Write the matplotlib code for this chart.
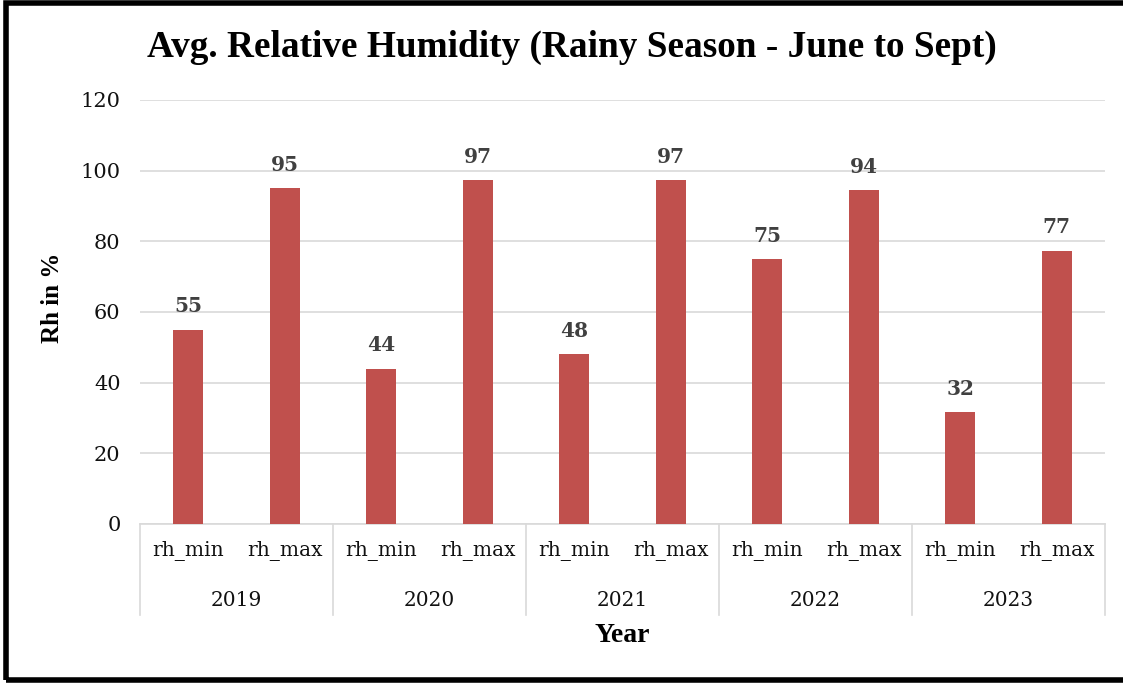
import matplotlib
matplotlib.use("Agg")
from matplotlib import pyplot as plt
from matplotlib.patches import Rectangle
import numpy as np

years = ["2019", "2020", "2021", "2022", "2023"]
sub_labels = ["rh_min", "rh_max"]
rh_min = [55.0, 44.0, 48.0, 75.0, 31.7]
rh_max = [95.0, 97.3, 97.3, 94.4, 77.4]

# interleave min/max per year
values = []
for a, b in zip(rh_min, rh_max):
    values += [a, b]
x = np.arange(len(values))

fig = plt.figure(figsize=(11.23, 6.83), dpi=100)
ax = fig.add_axes([0.1247, 0.2328, 0.984 - 0.1247, 0.8536 - 0.2328])

bar_color = "#c0504d"
ax.bar(x, values, width=0.31, color=bar_color, zorder=3)

for xi, v in zip(x, values):
    ax.text(xi, v + 3.8, "%d" % round(v), ha="center", va="bottom",
            fontsize=14.5, fontweight="bold", color="#404040", family="DejaVu Serif")

ax.set_ylim(0, 120)
ax.set_xlim(-0.5, len(values) - 0.5)
ax.set_yticks(range(0, 121, 20))
ax.yaxis.grid(True, color="#d9d9d9", linewidth=1.2, zorder=0)
ax.tick_params(axis="y", length=0, pad=14, labelsize=15, labelcolor="#111111")
for lab in ax.get_yticklabels():
    lab.set_family("DejaVu Serif")

ax.set_xticks(x)
ax.set_xticklabels(sub_labels * len(years), family="DejaVu Serif", fontsize=14.5, color="#111111")
ax.tick_params(axis="x", length=0, pad=12)

for s in ["top", "right", "left"]:
    ax.spines[s].set_visible(False)
ax.spines["bottom"].set_color("#d9d9d9")
ax.spines["bottom"].set_linewidth(1.2)

trans = ax.get_xaxis_transform()
for i, yr in enumerate(years):
    ax.text(2 * i + 0.5, -0.18, yr, transform=trans, ha="center", va="center",
            family="DejaVu Serif", fontsize=14.5, color="#111111")
for i in range(len(years) + 1):
    ax.plot([2 * i - 0.5, 2 * i - 0.5], [0, -0.215], transform=trans,
            color="#d9d9d9", linewidth=1.2, clip_on=False)

ax.set_xlabel("Year", family="Liberation Serif", fontweight="bold", fontsize=20, va="center")
ax.xaxis.set_label_coords(0.5, -0.264)
ax.set_ylabel("Rh in %", family="Liberation Serif", fontweight="bold", fontsize=18, va="center")
ax.yaxis.set_label_coords(-0.091, 0.533)

fig.text(0.509, 0.931, "Avg. Relative Humidity (Rainy Season - June to Sept)",
         ha="center", va="center", family="Liberation Serif", fontweight="bold", fontsize=26.8)

fig.patches.append(Rectangle((6 / 1123, 3 / 683), 1.05, 1 - 6 / 683, transform=fig.transFigure,
                             fill=False, edgecolor="black", linewidth=4))

fig.savefig("out.png", dpi=100)
